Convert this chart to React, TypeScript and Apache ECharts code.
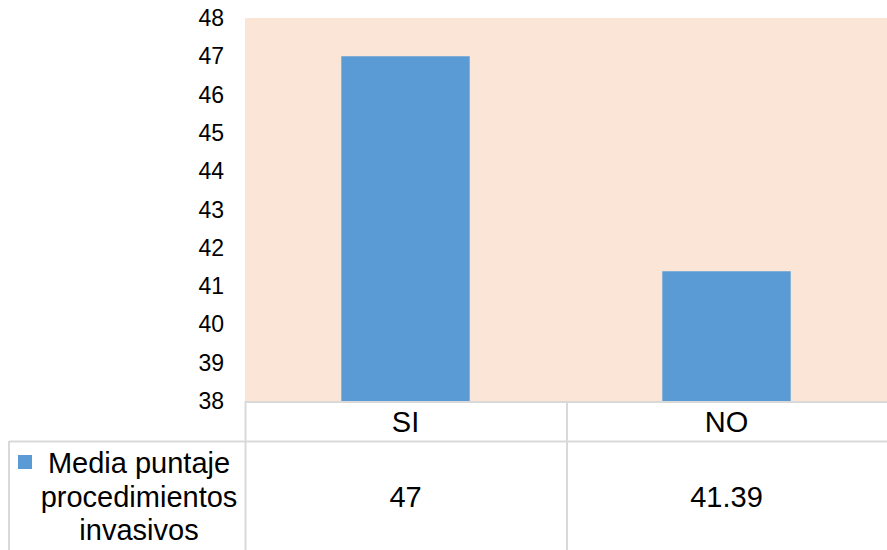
import React, { useEffect, useRef } from "react";
import * as echarts from "echarts";

const categories = ["SI", "NO"];
const seriesName = "Media puntaje procedimientos invasivos";
const legendLines = ["Media puntaje", "procedimientos", "invasivos"];
const values = [47, 41.39];
const yMin = 38;
const yMax = 48;
const yInterval = 1;

export default function App() {
  const ref = useRef<HTMLDivElement>(null);
  useEffect(() => {
    if (!ref.current) return;
    const chart = echarts.init(ref.current, null, { renderer: "svg" });
    const font = "'Liberation Sans', Arial, sans-serif";
    const lineStyle = { stroke: "#D9D9D9", lineWidth: 2 };
    chart.setOption({
      animation: false,
      backgroundColor: "#ffffff",
      textStyle: { fontFamily: font },
      grid: {
        left: 245,
        right: 0,
        top: 18,
        bottom: 149,
        show: true,
        backgroundColor: "#FBE5D6",
        borderWidth: 0,
      },
      legend: {
        show: true,
        left: 18,
        top: 455,
        padding: 0,
        itemWidth: 14,
        itemHeight: 14,
        icon: "rect",
        data: [seriesName],
        formatter: () => "",
        textStyle: { fontSize: 1 },
        selectedMode: false,
      },
      xAxis: [
        {
          type: "category",
          data: categories,
          position: "bottom",
          axisLine: { show: false },
          axisTick: { show: false },
          splitLine: { show: false },
          axisLabel: {
            margin: 21,
            fontSize: 29,
            color: "#000",
            fontFamily: font,
            verticalAlign: "middle",
          },
        },
        {
          type: "category",
          data: values.map((v) => String(v)),
          position: "bottom",
          offset: 75,
          axisLine: { show: false },
          axisTick: { show: false },
          splitLine: { show: false },
          axisLabel: {
            margin: 21,
            fontSize: 29,
            color: "#000",
            fontFamily: font,
            verticalAlign: "middle",
          },
        },
      ],
      yAxis: {
        type: "value",
        min: yMin,
        max: yMax,
        interval: yInterval,
        axisLine: { show: false },
        axisTick: { show: false },
        splitLine: { show: false },
        axisLabel: {
          margin: 21,
          fontSize: 23,
          color: "#000",
          fontFamily: font,
        },
      },
      series: [
        {
          name: seriesName,
          type: "bar",
          data: values,
          barWidth: "40%",
          itemStyle: { color: "#5B9BD5" },
          xAxisIndex: 0,
        },
      ],
      graphic: [
        { type: "line", shape: { x1: 245, y1: 402, x2: 887, y2: 402 }, style: lineStyle },
        { type: "line", shape: { x1: 9, y1: 441.5, x2: 887, y2: 441.5 }, style: lineStyle },
        { type: "line", shape: { x1: 245.5, y1: 401, x2: 245.5, y2: 550 }, style: lineStyle },
        { type: "line", shape: { x1: 567, y1: 401, x2: 567, y2: 550 }, style: lineStyle },
        { type: "line", shape: { x1: 9, y1: 441, x2: 9, y2: 550 }, style: lineStyle },
        ...legendLines.map((t, i) => ({
          type: "text",
          x: 139,
          y: 463 + i * 33.5,
          style: {
            text: t,
            fontSize: 29,
            fontFamily: font,
            fill: "#000",
            textAlign: "center",
            textVerticalAlign: "middle",
          },
        })),
      ],
    });
    return () => chart.dispose();
  }, []);
  return (
    <div
      ref={ref}
      style={{ position: "fixed", left: 0, top: 0, width: 887, height: 550 }}
    />
  );
}
